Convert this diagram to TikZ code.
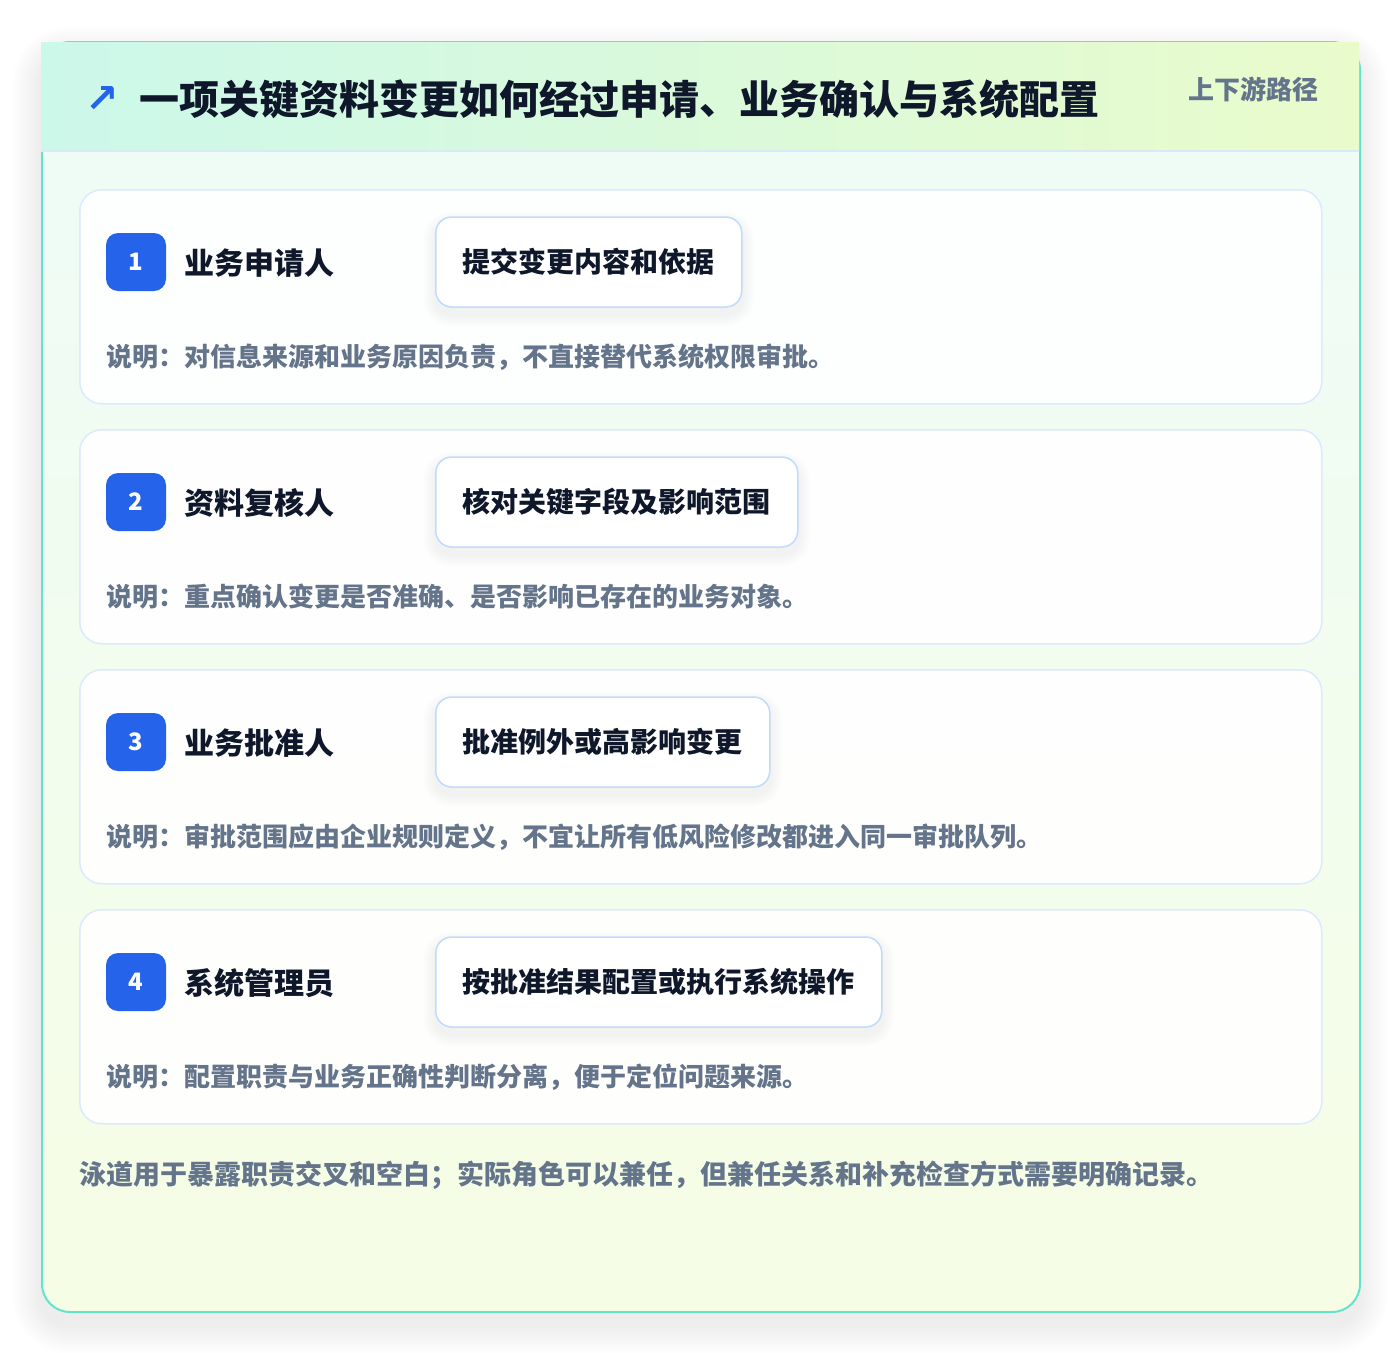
\documentclass[tikz,border=0pt]{standalone}
\usepackage{fontspec}
\setmainfont{Noto Sans CJK SC}
\newfontfamily\dejavu{DejaVu Sans}
\usetikzlibrary{calc}
\definecolor{ink}{HTML}{0F172A}
\definecolor{slate}{HTML}{64748B}
\definecolor{blue1}{HTML}{2563EB}
\definecolor{pborder}{HTML}{DBEAFE}
\definecolor{aborder}{HTML}{BFDBFE}
\definecolor{cborder}{HTML}{64E3CC}
\definecolor{hleft}{HTML}{CCF8EA}
\definecolor{hright}{HTML}{E9FBCB}
\definecolor{btop}{HTML}{EEFCF8}
\definecolor{bbot}{HTML}{F6FDE5}
\definecolor{hline}{HTML}{D8EAF6}
\pgfdeclarelayer{cardlayer}
\pgfdeclarelayer{panellayer}
\pgfdeclarelayer{shadowlayer}
\pgfsetlayers{cardlayer,panellayer,shadowlayer,main}
\begin{document}
\begin{tikzpicture}[x=1pt,y=-1pt,
  panel/.style={draw=pborder, line width=1.5pt, fill=white, fill opacity=0.92, draw opacity=1, rounded corners=22pt, anchor=north west, minimum width=1242pt, minimum height=214pt, inner sep=0pt},
  badge/.style={fill=blue1, rounded corners=12pt, minimum width=60pt, minimum height=58pt, inner sep=0pt, text=white, font=\bfseries\fontsize{24}{26}\selectfont},
  role/.style={anchor=west, inner sep=0pt, text=ink, font=\bfseries\fontsize{30}{34}\selectfont},
  actbox/.style={anchor=west, draw=aborder, line width=1.5pt, fill=white, rounded corners=16pt, minimum height=90pt, inner xsep=27pt, inner ysep=0pt, text=ink, font=\bfseries\fontsize{28}{32}\selectfont},
  desc/.style={anchor=west, inner sep=0pt, text=slate, font=\bfseries\fontsize{26}{30}\selectfont},
]
\useasboundingbox (0,0) rectangle (1400,1352);

% card with shadow
\begin{pgfonlayer}{cardlayer}
\fill[white] (0,0) rectangle (1400,1352);
\foreach \i in {1,...,18}{
  \fill[black, opacity=0.0035, rounded corners=28pt+\i*1.6pt] ({41-\i*1.6},{41-\i*1.6+14}) rectangle ({1359+\i*1.6},{1311+\i*1.6+14});
}
\node[anchor=north west, minimum width=1318pt, minimum height=1270pt, inner sep=0pt, rounded corners=28pt, top color=btop, bottom color=bbot, draw=cborder, line width=2pt] (card) at (41,41) {};
\fill[left color=hleft, right color=hright] (41,42.5) rectangle (1359,151);
\draw[hline, line width=1.5pt] (41,151) -- (1359,151);
\end{pgfonlayer}

% header texts
\node[inner sep=0pt, text=blue1, font=\dejavu\bfseries\fontsize{40}{42}\selectfont] (icon) at (102,99) {↗};
\node[anchor=west, inner sep=0pt, text=ink, font=\bfseries\fontsize{40}{46}\selectfont] (title) at (139,99) {一项关键资料变更如何经过申请、业务确认与系统配置};
\node[anchor=east, inner sep=0pt, text=slate, font=\bfseries\fontsize{26}{30}\selectfont] (tag) at (1319,89) {上下游路径};

% rows
\foreach \n/\yy/\rolet/\actt/\desct in {
  1/189/业务申请人/提交变更内容和依据/说明：对信息来源和业务原因负责，不直接替代系统权限审批。,
  2/429/资料复核人/核对关键字段及影响范围/说明：重点确认变更是否准确、是否影响已存在的业务对象。,
  3/669/业务批准人/批准例外或高影响变更/说明：审批范围应由企业规则定义，不宜让所有低风险修改都进入同一审批队列。,
  4/909/系统管理员/按批准结果配置或执行系统操作/说明：配置职责与业务正确性判断分离，便于定位问题来源。}{
  \begin{pgfonlayer}{panellayer}
  \node[panel] (p\n) at (79,\yy) {};
  \end{pgfonlayer}
  \node[badge] (b\n) at (136,{\yy+73}) {\n};
  \node[role] (r\n) at (184,{\yy+74}) {\rolet};
  \node[actbox] (a\n) at (435,{\yy+73}) {\actt};
  \node[desc] (d\n) at (106,{\yy+168}) {\desct};
  \begin{pgfonlayer}{shadowlayer}
  \foreach \i in {1,...,12}{
    \fill[black, opacity=0.0035, rounded corners=16pt+\i*1pt] ($(a\n.north west)+({-\i},{-\i+7})$) rectangle ($(a\n.south east)+({\i},{\i+7})$);
  }
  \end{pgfonlayer}
}

\node[anchor=west, inner sep=0pt, text=slate, font=\bfseries\fontsize{27}{32}\selectfont] (note) at (79,1175) {泳道用于暴露职责交叉和空白；实际角色可以兼任，但兼任关系和补充检查方式需要明确记录。};
\end{tikzpicture}
\end{document}
